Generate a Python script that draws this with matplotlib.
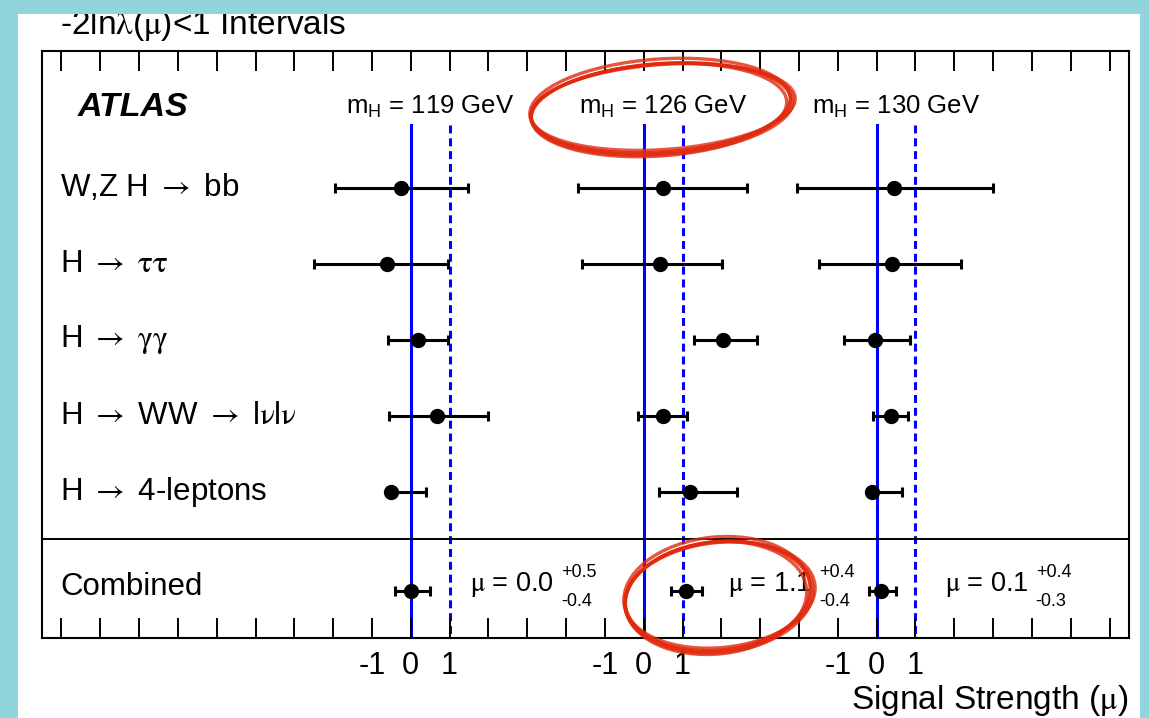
import matplotlib
matplotlib.use("Agg")
import matplotlib.pyplot as plt
import numpy as np
from matplotlib.patches import Rectangle, Ellipse

plt.rcParams["font.family"] = ["Liberation Sans", "DejaVu Sans"]
# Greek letters and arrows come from STIX (upright serif, thin arrows)
plt.rcParams["mathtext.fontset"] = "stix"
plt.rcParams["mathtext.default"] = "rm"
plt.rcParams["mathtext.rm"] = "Liberation Sans"
plt.rcParams["mathtext.sf"] = "Liberation Sans"

channels = [
    r"W,Z H $\rightarrow$ bb",
    r"H $\rightarrow$ $\tau\tau$",
    r"H $\rightarrow$ $\gamma\gamma$",
    r"H $\rightarrow$ WW $\rightarrow$ l$\nu$l$\nu$",
    r"H $\rightarrow$ 4-leptons",
]
masses = [119, 126, 130]

# best-fit mu, rows = channels, columns = masses
mu_best = np.array([
    [-0.24, 0.50, 0.45],
    [-0.61, 0.43, 0.39],
    [0.19, 2.04, -0.03],
    [0.68, 0.50, 0.36],
    [-0.52, 1.20, -0.13],
])
# -2ln(lambda) < 1 interval edges
mu_lo = np.array([
    [-1.96, -1.69, -2.05],
    [-2.50, -1.59, -1.48],
    [-0.59, 1.29, -0.84],
    [-0.57, -0.14, -0.09],
    [-0.62, 0.40, -0.22],
])
mu_hi = np.array([
    [1.47, 2.66, 3.00],
    [0.96, 2.02, 2.16],
    [0.97, 2.92, 0.86],
    [1.98, 1.12, 0.81],
    [0.40, 2.40, 0.64],
])

comb_mu = [0.0, 1.1, 0.1]
comb_up = [0.5, 0.4, 0.4]
comb_dn = [0.4, 0.4, 0.3]

W, H = 1149, 718
fig = plt.figure(figsize=(W / 100, H / 100), dpi=100)
fig.patch.set_facecolor("#8fd5db")
panel = Rectangle((18 / W, 0), (1140 - 18) / W, (H - 14) / H,
                  transform=fig.transFigure, facecolor="white", edgecolor="none", zorder=-5)
fig.patches.append(panel)

ax = fig.add_axes([42 / W, (H - 638) / H, 1087 / W, 587 / H])
ax.set_xlim(-9.5, 18.5)
ax.set_ylim(6.92, -0.8)

offsets = [0, 6, 12]
rows = np.arange(1, len(channels) + 1)
y_comb = 6.3
y_sep = 5.62
y_head = -0.06
y_line_top = 0.17

# reference lines at mu = 0 (solid) and mu = 1 (dashed)
for off in offsets:
    ax.plot([off, off], [y_line_top, 6.92], color="#0000ff", lw=2.2, zorder=1)
    ax.plot([off + 1, off + 1], [y_line_top, 6.92], color="#0000ff", lw=2.2,
            linestyle=(0, (2.6, 1.6)), zorder=1)

ax.axhline(y_sep, color="black", lw=1.4, zorder=2)

eb_style = dict(fmt="o", color="black", ms=10, elinewidth=2.2, capsize=3.5,
                capthick=2.2, zorder=3)
for j, off in enumerate(offsets):
    x = off + mu_best[:, j]
    xerr = [mu_best[:, j] - mu_lo[:, j], mu_hi[:, j] - mu_best[:, j]]
    ax.errorbar(x, rows, xerr=xerr, **eb_style)
    ax.errorbar([off + comb_mu[j]], [y_comb], xerr=[[comb_dn[j]], [comb_up[j]]], **eb_style)

# row labels
for name, y in zip(channels, rows):
    ax.text(-9.03, y, name, fontsize=22.5, va="center", ha="left")
ax.text(-9.03, 6.25, "Combined", fontsize=22.5, va="center", ha="left")

ax.text(-8.57, y_head, "ATLAS", fontsize=24.5, fontweight="bold", fontstyle="italic",
        va="center", ha="left")
for m, off in zip(masses, offsets):
    ax.text(off + 0.5, y_head, r"m$_\mathsf{H}$ = %d GeV" % m, fontsize=18.5,
            va="center", ha="center", math_fontfamily="custom")

# combined results, written next to each panel
text_x = [1.53, 8.18, 13.76]
for j, tx in enumerate(text_x):
    t = ax.text(tx, 6.22, r"$\mu$ = %.1f" % comb_mu[j], fontsize=19.5, va="center", ha="left")
    ax.annotate("+%.1f" % comb_up[j], xy=(1, 0.5), xycoords=t, xytext=(5, 3),
                textcoords="offset points", fontsize=13, va="bottom", ha="left")
    ax.annotate("-%.1f" % comb_dn[j], xy=(1, 0.5), xycoords=t, xytext=(5, -6),
                textcoords="offset points", fontsize=13, va="top", ha="left")

ticks = np.arange(-9, 19)
labels = []
for t in ticks:
    near = min(offsets, key=lambda o: abs(t - o))
    labels.append(str(t - near) if abs(t - near) <= 1 else "")
ax.set_xticks(ticks)
ax.set_xticklabels(labels, fontsize=22)
ax.set_yticks([])
ax.tick_params(axis="x", direction="in", length=14.5, width=1.4, top=True, pad=9)
for s in ax.spines.values():
    s.set_linewidth(1.5)

fig.text(1128 / W, 1 - 701 / H, r"Signal Strength ($\mu$)", fontsize=24,
         ha="right", va="center")
title = fig.text(60 / W, 1 - 34 / H, r"-2ln$\lambda$($\mu$)<1 Intervals", fontsize=24,
                 ha="left", va="baseline")
title.set_clip_path(panel)

# hand-drawn red rings
over = fig.add_axes([0, 0, 1, 1], facecolor="none")
over.set_xlim(0, W)
over.set_ylim(H, 0)
over.axis("off")
red = "#e02a0e"
rings = [
    ((661, 108), 260, 88, -4),
    ((718, 596), 186, 108, -6),
]
strokes = [(0, 0, 0, 0), (2, -1, 5, -3), (-2, 2, -4, 4), (1, 1, 3, 3), (-1, -2, 1, 6)]
for (cx, cy), w, h, ang in rings:
    for dx, dy, dw, dh in strokes:
        over.add_patch(Ellipse((cx + dx, cy + dy), w + dw, h + dh, angle=ang,
                               fill=False, edgecolor=red, lw=2.4, alpha=0.8))

fig.savefig("out.png", dpi=100)
